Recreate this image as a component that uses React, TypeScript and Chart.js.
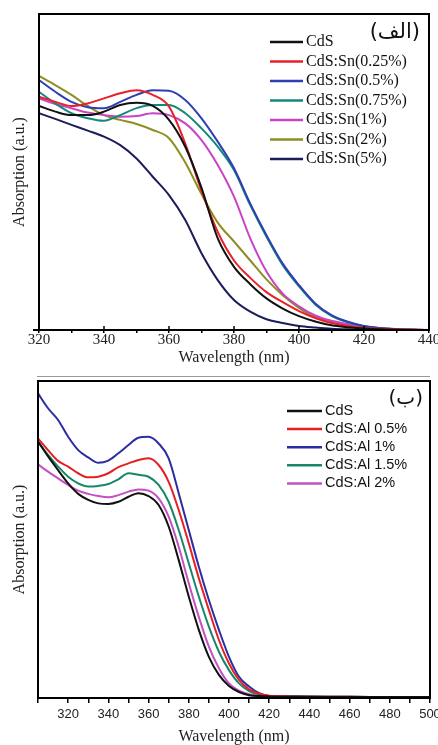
import { useEffect, useRef } from "react";
import { Chart, registerables } from "chart.js";

Chart.register(...registerables);

// ---------- Panel (الف): CdS:Sn ----------
const snWavelengths = [320, 325, 330, 335, 340, 345, 350, 355, 360, 365, 370, 375, 380, 385, 390, 395, 400, 405, 410, 415, 420, 430, 440];
const snCdS = [70.9, 69.1, 68.0, 68.0, 69.1, 71.2, 71.9, 70.9, 66.5, 58, 45, 29, 20, 14.5, 10, 6.8, 4.4, 2.7, 1.5, 0.9, 0.5, 0.1, 0];
const snSn025 = [73.8, 72.2, 70.9, 71.7, 73.3, 74.9, 75.9, 74.4, 70.7, 59, 44, 31, 22, 16.5, 12, 8.8, 6, 3.8, 2.2, 1.2, 0.6, 0.2, 0];
const snSn05 = [79.1, 75.4, 72.2, 70.5, 70.2, 72.2, 74.4, 75.9, 75.7, 72.8, 67, 59.6, 51.2, 40, 30, 21, 14.2, 8.4, 4.7, 2.6, 1.3, 0.2, 0];
const snSn075 = [75.4, 71.7, 68.6, 67, 66.2, 68, 70.2, 71.2, 71.2, 68.6, 63.8, 58, 50.6, 39.5, 29.5, 20.5, 13.8, 8.1, 4.5, 2.5, 1.2, 0.2, 0];
const snSn1 = [73.3, 71.5, 70.2, 68.8, 68, 67.5, 67.7, 68.6, 68, 65.4, 60.1, 52.2, 42.2, 29, 18.5, 11.5, 7.5, 4.6, 2.9, 1.9, 1.0, 0.3, 0];
const snSn2 = [80.4, 77.5, 74.4, 70.9, 68, 66.5, 65.2, 63.3, 60.7, 53, 43, 34, 28, 22, 16, 11, 7, 4, 2.5, 1.5, 0.9, 0.3, 0];
const snSn5 = [68.6, 66.8, 64.9, 63.1, 61.2, 58.5, 54.3, 48.5, 42.7, 34.8, 24.3, 15.8, 9.5, 5.8, 3.4, 2.2, 1.3, 0.8, 0.4, 0.2, 0.1, 0, 0];
const snSeries = [snCdS, snSn025, snSn05, snSn075, snSn1, snSn2, snSn5];
const snLabels = ["CdS", "CdS:Sn(0.25%)", "CdS:Sn(0.5%)", "CdS:Sn(0.75%)", "CdS:Sn(1%)", "CdS:Sn(2%)", "CdS:Sn(5%)"];
const snColors = ["#111111", "#e8202a", "#2f3fb0", "#13897a", "#c844c4", "#8e8e22", "#1c1c5c"];
const snTickLabels = [320, 340, 360, 380, 400, 420, 440];

// ---------- Panel (ب): CdS:Al ----------
const alWavelengths = [305, 310, 315, 320, 325, 330, 335, 340, 345, 350, 355, 360, 365, 370, 375, 380, 385, 390, 395, 400, 405, 410, 415, 420, 430, 440, 460, 480, 500];
const alCdS = [80.9, 76.2, 71.9, 67.7, 64.4, 62.5, 61.4, 61.2, 61.9, 63.5, 64.6, 63.7, 60.9, 54.1, 43.5, 32, 21.5, 13, 7.3, 3.8, 1.9, 0.9, 0.6, 0.5, 0.4, 0.4, 0.3, 0.3, 0.3];
const alAl05 = [81.9, 78.2, 74.8, 73, 70.9, 69.6, 69.8, 70.9, 72.8, 74, 75.1, 75.6, 73.5, 68.2, 59.3, 48.8, 37.8, 27.8, 18.3, 10.9, 5.7, 2.7, 1.4, 0.7, 0.5, 0.4, 0.4, 0.3, 0.3];
const alAl1 = [96.1, 91.4, 87.7, 82.4, 78.2, 75.9, 74.2, 74.9, 77.2, 79.8, 82.1, 82.4, 80.3, 75.6, 64.6, 53, 41.4, 30.9, 21.5, 13, 6.7, 3.6, 1.5, 0.6, 0.5, 0.4, 0.4, 0.3, 0.3];
const alAl15 = [80.9, 76.7, 73, 69.8, 67.7, 66.7, 66.9, 67.5, 69, 70.9, 70.4, 69.8, 67.2, 61.9, 53, 42.5, 32, 22.5, 14.6, 8.8, 4.6, 2.2, 1.1, 0.6, 0.5, 0.4, 0.4, 0.3, 0.3];
const alAl2 = [73.7, 71.4, 69.3, 67.2, 65.4, 64.4, 63.7, 63.3, 64, 65.1, 65.8, 65.4, 63, 57.2, 47.7, 36.2, 25.6, 16.2, 9.4, 4.6, 2.3, 1.2, 0.7, 0.5, 0.4, 0.4, 0.3, 0.3, 0.3];
const alSeries = [alCdS, alAl05, alAl1, alAl15, alAl2];
const alLabels = ["CdS", "CdS:Al 0.5%", "CdS:Al 1%", "CdS:Al 1.5%", "CdS:Al 2%"];
const alColors = ["#111111", "#e42024", "#2a2ea0", "#17876a", "#c450c4"];
const alTickLabels = [320, 340, 360, 380, 400, 420, 440, 460, 480, 500];

const framePlugin = {
  id: "frame",
  afterDraw(chart: any, _args: any, o: any) {
    const { ctx, chartArea: a } = chart;
    ctx.save();
    ctx.strokeStyle = "#000";
    ctx.lineWidth = 2;
    ctx.strokeRect(a.left, a.top, a.right - a.left, a.bottom - a.top);
    if (o.extendLeft) {
      ctx.beginPath();
      ctx.moveTo(a.left - o.extendLeft, a.bottom);
      ctx.lineTo(a.left, a.bottom);
      ctx.stroke();
    }
    if (o.innerTicks) {
      const xs = chart.scales.x;
      ctx.lineWidth = 1.5;
      xs.ticks.forEach((t: any) => {
        if (o.innerTicks.includes(t.value)) {
          const px = xs.getPixelForValue(t.value);
          ctx.beginPath();
          ctx.moveTo(px, a.bottom);
          ctx.lineTo(px, a.bottom - 4);
          ctx.stroke();
        }
      });
    }
    ctx.restore();
  },
};

const insideLegend = {
  id: "insideLegend",
  afterDraw(chart: any, _args: any, o: any) {
    const { ctx, chartArea: a } = chart;
    ctx.save();
    chart.data.datasets.forEach((ds: any, i: number) => {
      const y = a.top + o.top + i * o.rowHeight;
      const x0 = a.right - o.fromRight;
      ctx.strokeStyle = ds.borderColor;
      ctx.lineWidth = o.lineWidth;
      ctx.beginPath();
      ctx.moveTo(x0, y);
      ctx.lineTo(x0 + o.lineLength, y);
      ctx.stroke();
      ctx.fillStyle = o.color;
      ctx.font = o.font;
      ctx.textBaseline = "middle";
      ctx.textAlign = "left";
      ctx.fillText(ds.label, x0 + o.lineLength + o.gap, y);
    });
    ctx.font = o.tagFont;
    ctx.fillStyle = "#111";
    ctx.textAlign = "right";
    ctx.textBaseline = "middle";
    ctx.fillText(o.tag, a.right - o.tagRight, a.top + o.tagTop);
    ctx.restore();
  },
};

function buildConfig(p: any): any {
  return {
    type: "line",
    data: {
      datasets: p.series.map((vals: number[], i: number) => ({
        label: p.labels[i],
        data: p.wl.map((x: number, j: number) => ({ x, y: vals[j] })),
        borderColor: p.colors[i],
        backgroundColor: p.colors[i],
        borderWidth: 2,
        pointRadius: 0,
        cubicInterpolationMode: "monotone",
        fill: false,
      })),
    },
    options: {
      responsive: false,
      animation: false,
      devicePixelRatio: 1,
      layout: { padding: p.padding },
      plugins: {
        legend: { display: false },
        tooltip: { enabled: false },
        frame: p.frame,
        insideLegend: p.legend,
      },
      scales: {
        x: {
          type: "linear",
          min: p.xMin,
          max: p.xMax,
          afterFit: (s: any) => {
            s.height = p.xHeight;
            s.paddingLeft = 0;
            s.paddingRight = 0;
          },
          ticks: {
            stepSize: 10,
            autoSkip: false,
            maxRotation: 0,
            minRotation: 0,
            padding: p.tickPadding,
            color: "#222",
            font: p.tickFont,
            callback: (v: number) => (p.tickLabels.includes(v) ? String(v) : ""),
          },
          grid: {
            display: true,
            drawOnChartArea: false,
            drawTicks: true,
            tickLength: p.tickLength,
            color: "#000",
            lineWidth: 1.5,
          },
          border: { display: false },
          title: {
            display: true,
            text: "Wavelength (nm)",
            color: "#222",
            font: { family: "Liberation Serif", size: 16, lineHeight: 1 },
            padding: { top: 0, bottom: p.xTitlePad },
          },
        },
        y: {
          min: 0,
          max: 100,
          afterFit: (s: any) => {
            s.width = p.yWidth;
            s.paddingTop = 0;
            s.paddingBottom = 0;
          },
          ticks: { display: false },
          grid: { display: false },
          border: { display: false },
          title: {
            display: true,
            text: "Absorption (a.u.)",
            color: "#222",
            font: { family: "Liberation Serif", size: 16, lineHeight: 1 },
            padding: { top: 11.5, bottom: 0 },
          },
        },
      },
    },
    plugins: [framePlugin, insideLegend],
  };
}

export default function App() {
  const topRef = useRef<HTMLCanvasElement>(null);
  const botRef = useRef<HTMLCanvasElement>(null);

  useEffect(() => {
    const top = new Chart(
      topRef.current as HTMLCanvasElement,
      buildConfig({
        wl: snWavelengths,
        series: snSeries,
        labels: snLabels,
        colors: snColors,
        tickLabels: snTickLabels,
        xMin: 320,
        xMax: 440,
        padding: { left: 0, right: 9, top: 14, bottom: 0 },
        xHeight: 46,
        yWidth: 39,
        tickLength: 3,
        tickPadding: 0,
        tickFont: { family: "Liberation Serif", size: 15, lineHeight: 1 },
        xTitlePad: 10,
        frame: { extendLeft: 6, innerTicks: snTickLabels },
        legend: {
          top: 28,
          rowHeight: 19.5,
          fromRight: 159,
          lineLength: 33,
          gap: 3,
          lineWidth: 2.5,
          color: "#111",
          font: '16px "Liberation Serif"',
          tag: "(الف)",
          tagFont: '21px "DejaVu Sans"',
          tagRight: 9,
          tagTop: 19,
        },
      })
    );
    const bot = new Chart(
      botRef.current as HTMLCanvasElement,
      buildConfig({
        wl: alWavelengths,
        series: alSeries,
        labels: alLabels,
        colors: alColors,
        tickLabels: alTickLabels,
        xMin: 305,
        xMax: 500,
        padding: { left: 0, right: 8, top: 5, bottom: 0 },
        xHeight: 47,
        yWidth: 38,
        tickLength: 5,
        tickPadding: 4.5,
        tickFont: { family: "Liberation Sans", size: 13, lineHeight: 1 },
        xTitlePad: 0,
        frame: { extendLeft: 0, innerTicks: null },
        legend: {
          top: 30,
          rowHeight: 18.1,
          fromRight: 143,
          lineLength: 35,
          gap: 3,
          lineWidth: 2.5,
          color: "#111",
          font: '14.5px "Liberation Sans"',
          tag: "(ب)",
          tagFont: '20px "DejaVu Sans"',
          tagRight: 7,
          tagTop: 18,
        },
      })
    );
    return () => {
      top.destroy();
      bot.destroy();
    };
  }, []);

  return (
    <div style={{ position: "absolute", left: 0, top: 0, width: 438, height: 745, background: "#fff" }}>
      <canvas ref={topRef} width={438} height={376} style={{ position: "absolute", left: 0, top: 0, display: "block" }} />
      <canvas ref={botRef} width={438} height={369} style={{ position: "absolute", left: 0, top: 376, display: "block" }} />
      <div style={{ position: "absolute", left: 37, top: 376, width: 393, height: 1, background: "#999" }} />
    </div>
  );
}
